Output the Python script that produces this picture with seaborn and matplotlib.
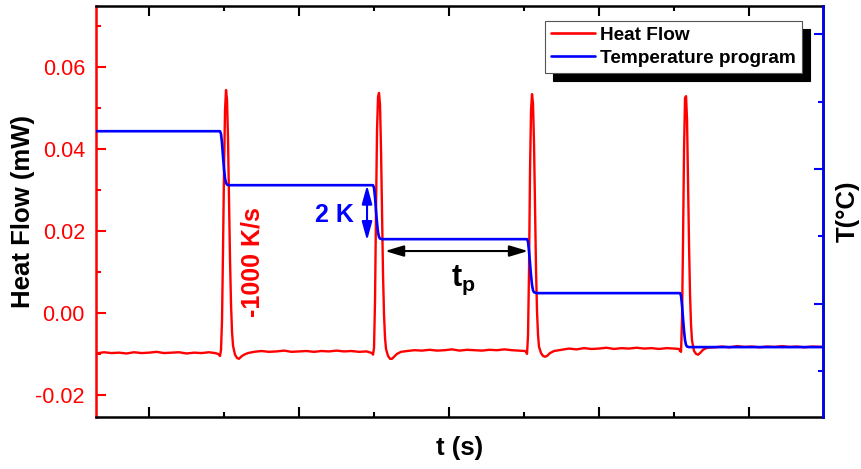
import numpy as np
import pandas as pd
import matplotlib
matplotlib.use("Agg")
import matplotlib.pyplot as plt
from matplotlib.ticker import MultipleLocator, FormatStrFormatter, NullFormatter
import seaborn as sns

# ---------------- heat flow trace (t in s, heat flow in mW) ----------------
base1_t = [0.6467, 0.70, 0.75, 0.80, 0.85, 0.90, 0.95, 1.00, 1.05, 1.10,
           1.15, 1.20, 1.25, 1.30, 1.35, 1.40, 1.44, 1.46]
base1_hf = [-0.0099, -0.0096, -0.0098, -0.0097, -0.0099, -0.0096, -0.0098, -0.0097, -0.0095, -0.0098,
            -0.0097, -0.0096, -0.0099, -0.0097, -0.0098, -0.0096, -0.0098, -0.0100]

spike1_t = [1.4733, 1.4800, 1.4867, 1.4933, 1.5000, 1.5067, 1.5133, 1.5200, 1.5267, 1.5333,
            1.5400, 1.5467, 1.5533, 1.5600, 1.5733, 1.5867, 1.6000, 1.6133, 1.6333, 1.6600]
spike1_hf = [-0.0105, -0.0090, -0.0017, 0.0154, 0.0349, 0.0495, 0.0544, 0.0520, 0.0422, 0.0276,
             0.0129, 0.0020, -0.0046, -0.0080, -0.0102, -0.0110, -0.0112, -0.0107, -0.0102, -0.0098]

base2_t = [1.70, 1.75, 1.80, 1.85, 1.90, 1.95, 2.00, 2.05, 2.10, 2.15,
           2.20, 2.25, 2.30, 2.35, 2.40, 2.45]
base2_hf = [-0.0095, -0.0093, -0.0095, -0.0094, -0.0092, -0.0095, -0.0094, -0.0093, -0.0095, -0.0093,
            -0.0094, -0.0092, -0.0094, -0.0093, -0.0095, -0.0094]

spike2_t = [2.4867, 2.4933, 2.5000, 2.5067, 2.5133, 2.5200, 2.5267, 2.5333, 2.5400, 2.5467,
            2.5533, 2.5600, 2.5667, 2.5733, 2.5800, 2.5933, 2.6067, 2.6200, 2.6333, 2.6533, 2.6800]
spike2_hf = [-0.0098, -0.0102, -0.0085, 0.0032, 0.0251, 0.0446, 0.0527, 0.0537, 0.0507, 0.0398,
             0.0239, 0.0093, -0.0005, -0.0061, -0.0088, -0.0105, -0.0112, -0.0112, -0.0107, -0.0100, -0.0095]

base3_t = [2.72, 2.77, 2.82, 2.87, 2.92, 2.97, 3.02, 3.07, 3.12, 3.17,
           3.22, 3.27, 3.32, 3.37, 3.42, 3.47]
base3_hf = [-0.0093, -0.0091, -0.0092, -0.0090, -0.0092, -0.0091, -0.0089, -0.0092, -0.0090, -0.0091,
            -0.0092, -0.0090, -0.0091, -0.0089, -0.0091, -0.0092]

spike3_t = [3.5067, 3.5133, 3.5200, 3.5267, 3.5333, 3.5400, 3.5467, 3.5533, 3.5600, 3.5667,
            3.5733, 3.5800, 3.5867, 3.5933, 3.6000, 3.6133, 3.6267, 3.6400, 3.6533, 3.6733, 3.7000]
spike3_hf = [-0.0093, -0.0095, -0.0100, -0.0054, 0.0105, 0.0349, 0.0495, 0.0534, 0.0510, 0.0410,
             0.0251, 0.0105, 0.0002, -0.0054, -0.0083, -0.0098, -0.0105, -0.0107, -0.0105, -0.0098, -0.0093]

base4_t = [3.75, 3.80, 3.85, 3.90, 3.95, 4.00, 4.05, 4.10, 4.15, 4.20,
           4.25, 4.30, 4.35, 4.40, 4.45, 4.50]
base4_hf = [-0.0090, -0.0087, -0.0089, -0.0086, -0.0088, -0.0087, -0.0085, -0.0088, -0.0086, -0.0087,
            -0.0085, -0.0087, -0.0086, -0.0088, -0.0086, -0.0087]

spike4_t = [4.5333, 4.5400, 4.5467, 4.5533, 4.5600, 4.5667, 4.5733, 4.5800, 4.5867, 4.5933,
            4.6000, 4.6067, 4.6133, 4.6200, 4.6333, 4.6467, 4.6600, 4.6733, 4.6933, 4.7200]
spike4_hf = [-0.0088, -0.0093, -0.0095, -0.0017, 0.0178, 0.0398, 0.0524, 0.0529, 0.0471, 0.0324,
             0.0166, 0.0044, -0.0029, -0.0068, -0.0093, -0.0100, -0.0102, -0.0098, -0.0090, -0.0085]

base5_t = [4.77, 4.82, 4.87, 4.92, 4.97, 5.02, 5.07, 5.12, 5.17, 5.22,
           5.27, 5.32, 5.37, 5.42, 5.4933]
base5_hf = [-0.0084, -0.0082, -0.0084, -0.0081, -0.0083, -0.0082, -0.0084, -0.0082, -0.0083, -0.0081,
            -0.0083, -0.0082, -0.0084, -0.0082, -0.0083]

# ---------------- temperature program (t in s, T in °C) ----------------
start_t, start_T = [0.6467], [156.40]
step1_t = [1.4733, 1.4800, 1.4867, 1.4933, 1.5000, 1.5067, 1.5133, 1.5200, 1.5333]
step1_T = [156.40, 156.30, 155.95, 155.45, 155.00, 154.65, 154.48, 154.42, 154.40]
step2_t = [2.4933, 2.5000, 2.5067, 2.5133, 2.5200, 2.5267, 2.5333, 2.5400, 2.5533]
step2_T = [154.40, 154.30, 153.95, 153.45, 153.00, 152.65, 152.48, 152.42, 152.40]
step3_t = [3.5200, 3.5267, 3.5333, 3.5400, 3.5467, 3.5533, 3.5600, 3.5667, 3.5867]
step3_T = [152.40, 152.30, 151.95, 151.50, 151.05, 150.70, 150.50, 150.43, 150.40]
step4_t = [4.5400, 4.5467, 4.5533, 4.5600, 4.5667, 4.5733, 4.5800, 4.5867, 4.6000]
step4_T = [150.40, 150.30, 149.95, 149.45, 149.00, 148.65, 148.48, 148.42, 148.40]
end_t, end_T = [5.4933], [148.40]

step_height_K = (154.40, 152.35)     # the "2 K" step marked by the blue arrow
period_span_s = (2.5733, 3.5267)     # the isothermal period t_p

heat = pd.DataFrame({
    "t": np.concatenate([base1_t, spike1_t, base2_t, spike2_t, base3_t,
                         spike3_t, base4_t, spike4_t, base5_t]),
    "hf": np.concatenate([base1_hf, spike1_hf, base2_hf, spike2_hf, base3_hf,
                          spike3_hf, base4_hf, spike4_hf, base5_hf]),
})
temp = pd.DataFrame({
    "t": np.concatenate([start_t, step1_t, step2_t, step3_t, step4_t, end_t]),
    "T": np.concatenate([start_T, step1_T, step2_T, step3_T, step4_T, end_T]),
})

# ---------------- styling ----------------
sns.set_theme(style="white")
plt.rcParams["font.family"] = ["Liberation Sans", "DejaVu Sans"]
plt.rcParams["mathtext.fontset"] = "custom"
plt.rcParams["mathtext.rm"] = "Liberation Sans"
plt.rcParams["mathtext.bf"] = "Liberation Sans:bold"
plt.rcParams["text.color"] = "black"
plt.rcParams["axes.labelcolor"] = "black"

RED = "#ff0000"
BLUE = "#0000ff"

fig = plt.figure(figsize=(8.62, 4.69), dpi=100)
ax = fig.add_axes([0.1114, 0.1109, 0.8434, 0.8763])
ax2 = ax.twinx()

sns.lineplot(data=heat, x="t", y="hf", ax=ax, color=RED, lw=1.7, legend=False)
sns.lineplot(data=temp, x="t", y="T", ax=ax2, color=BLUE, lw=1.9, legend=False)
hf_line = ax.lines[-1]
t_line = ax2.lines[-1]

ax.set_xlim(0.6467, 5.4933)
ax.set_ylim(-0.0254, 0.0749)
ax2.set_ylim(145.81, 161.04)

# axes frame
for name, sp in ax.spines.items():
    sp.set_linewidth(1.8)
    sp.set_color("black")
ax.spines["left"].set_color(RED)
for name, sp in ax2.spines.items():
    sp.set_linewidth(1.8)
ax2.spines["right"].set_color(BLUE)
ax2.spines["left"].set_visible(False)
ax2.spines["top"].set_visible(False)
ax2.spines["bottom"].set_visible(False)

# ticks
ax.xaxis.set_major_locator(MultipleLocator(1.0))
ax.xaxis.set_minor_locator(MultipleLocator(0.5))
ax.xaxis.set_major_formatter(NullFormatter())
ax.yaxis.set_major_locator(MultipleLocator(0.02))
ax.yaxis.set_minor_locator(MultipleLocator(0.01))
ax.yaxis.set_major_formatter(FormatStrFormatter("%.2f"))
ax.tick_params(axis="x", which="both", direction="in", top=True, bottom=True,
               labelbottom=False, color="black", width=1.5)
ax.tick_params(axis="x", which="major", length=7)
ax.tick_params(axis="x", which="minor", length=3.5)
ax.tick_params(axis="y", which="both", direction="in", left=True, right=False,
               color=RED, labelcolor=RED, width=1.5, labelsize=15.5, pad=8)
ax.tick_params(axis="y", which="major", length=7.5)
ax.tick_params(axis="y", which="minor", length=3.5)

ax2.yaxis.set_major_locator(MultipleLocator(5))
ax2.yaxis.set_minor_locator(MultipleLocator(2.5))
ax2.yaxis.set_major_formatter(NullFormatter())
ax2.tick_params(axis="y", which="both", direction="in", right=True, left=False,
                color=BLUE, width=1.5)
ax2.tick_params(axis="y", which="major", length=6.5)
ax2.tick_params(axis="y", which="minor", length=3.5)

# labels
label_kw = dict(fontsize=18.5, fontweight="bold", color="black")
ax.set_xlabel("t (s)", labelpad=14, **label_kw)
ax.set_ylabel("Heat Flow (mW)", labelpad=0.5, **label_kw)
ax2.set_ylabel("T(°C)", labelpad=6, **label_kw)

# annotations
ax.text(1.693, 0.01244, "-1000 K/s", rotation=90, color=RED, fontsize=18,
        fontweight="bold", ha="center", va="center")
ax.text(2.233, 0.0240, "2 K", color=BLUE, fontsize=18, fontweight="bold",
        ha="center", va="center")
ax.text(3.093, 0.0080, r"$\mathbf{t}_\mathbf{p}$", color="black", fontsize=22,
        ha="center", va="center")

ax2.annotate("", xy=(2.4533, step_height_K[1]), xytext=(2.4533, step_height_K[0]),
             arrowprops=dict(arrowstyle="<|-|>,head_length=0.8,head_width=0.22",
                             color=BLUE, lw=1.5, mutation_scale=14,
                             shrinkA=0, shrinkB=0))
ax.annotate("", xy=(period_span_s[1], 0.0151), xytext=(period_span_s[0], 0.0151),
            arrowprops=dict(arrowstyle="<|-|>,head_length=0.8,head_width=0.24",
                            color="black", lw=1.5, mutation_scale=14,
                            shrinkA=0, shrinkB=0))

# legend with solid drop shadow
leg = ax2.legend([hf_line, t_line], ["Heat Flow", "Temperature program"],
                 loc="upper left", bbox_to_anchor=(0.6176, 0.9635), borderaxespad=0,
                 prop={"weight": "bold", "size": 13.7}, frameon=True, fancybox=False,
                 shadow={"ox": 5.8, "oy": -5.8, "facecolor": "black",
                         "edgecolor": "black", "alpha": 1},
                 framealpha=1, edgecolor="#555555", handlelength=2.3,
                 handletextpad=0.3, borderpad=0.3, labelspacing=0.3)
leg.get_frame().set_linewidth(0.8)
for txt in leg.get_texts():
    txt.set_color("black")
for ln in leg.get_lines():
    ln.set_linewidth(1.9)

fig.savefig("out.png", dpi=100)
